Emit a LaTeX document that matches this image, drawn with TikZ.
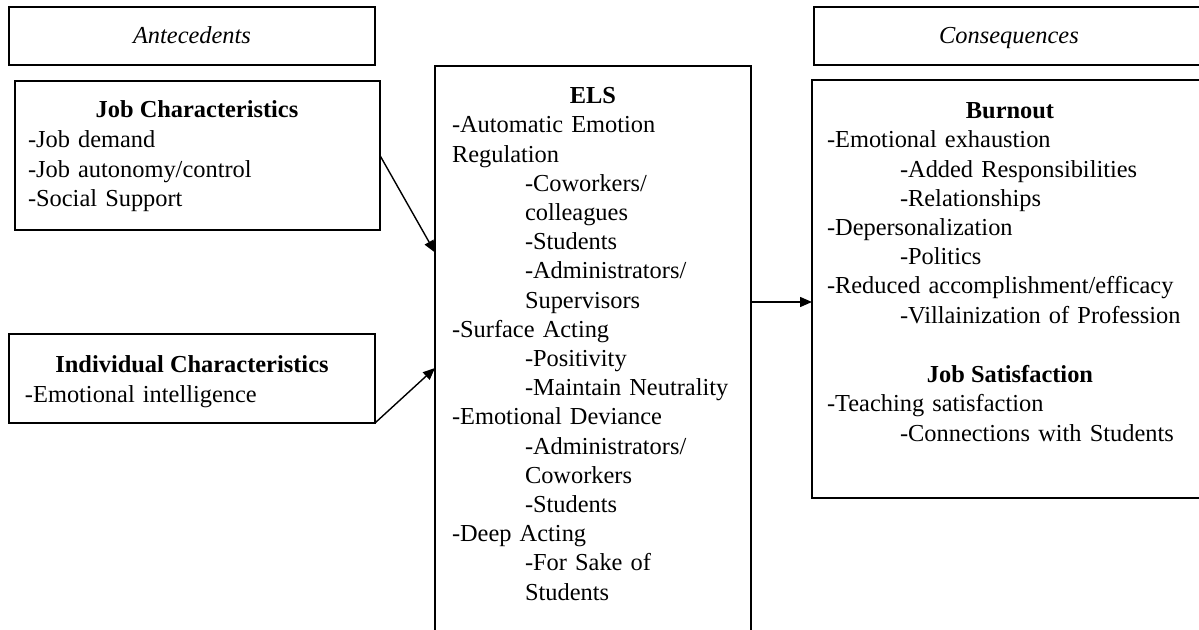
\documentclass[tikz,border=0pt]{standalone}
\usepackage{fontspec}
\setmainfont{Liberation Serif}
\usetikzlibrary{arrows.meta,calc}
\newcommand\itab{\hspace*{36.5pt}}
\begin{document}
\begin{tikzpicture}[x=0.5pt,y=-0.5pt,
  box/.style={draw,line width=1.3pt,inner sep=0pt,outer sep=0pt},
  txt/.style={inner sep=0pt,outer sep=0pt,font=\fontsize{12.2}{14.6}\selectfont},
  ttl/.style={txt,anchor=base,font=\fontsize{12.2}{14.6}\selectfont\bfseries},
  itl/.style={txt,anchor=base,font=\fontsize{12.2}{14.6}\selectfont\itshape},
  lst/.style={txt,anchor=base west,text width=185pt,align=left},
  arr/.style={line width=0.7pt,-{Triangle[length=6pt,width=5pt]}}]
\useasboundingbox (0,0) rectangle (1199,630);

% boxes
\node[box,minimum width=183pt,minimum height=29pt] (ant) at (192,36) {};
\node[box,minimum width=200.5pt,minimum height=29pt] (con) at (1014.5,36) {};
\node[box,minimum width=182.5pt,minimum height=74.5pt] (jc) at (197.5,155.5) {};
\node[box,minimum width=183pt,minimum height=44.5pt] (ind) at (192,378.5) {};
\node[box,minimum width=158pt,minimum height=282.5pt] (els) at (593,348.5) {};
\node[box,minimum width=201.5pt,minimum height=209pt] (bo) at (1013.5,289) {};

% headers
\node[itl] (antT) at (192,44) {Antecedents};
\node[itl] (conT) at (1009,44) {Consequences};

% job characteristics
\node[ttl] (jcT) at (197,118) {Job Characteristics};
\node[lst] (jcL) at (28,148) {-Job demand\\-Job autonomy/control\\-Social Support};

% individual characteristics
\node[ttl] (indT) at (192,373) {Individual Characteristics};
\node[lst] (indL) at (25,402) {-Emotional intelligence};

% ELS
\node[ttl] (elsT) at (593,104) {ELS};
\node[lst] (elsL) at (452,133) {-Automatic Emotion\\
Regulation\\
\itab-Coworkers/\\
\itab colleagues\\
\itab-Students\\
\itab-Administrators/\\
\itab Supervisors\\
-Surface Acting\\
\itab-Positivity\\
\itab-Maintain Neutrality\\
-Emotional Deviance\\
\itab-Administrators/\\
\itab Coworkers\\
\itab-Students\\
-Deep Acting\\
\itab-For Sake of\\
\itab Students};

% Burnout
\node[ttl] (boT) at (1010,119) {Burnout};
\node[lst] (boL) at (827,148) {-Emotional exhaustion\\
\itab-Added Responsibilities\\
\itab-Relationships\\
-Depersonalization\\
\itab-Politics\\
-Reduced accomplishment/efficacy\\
\itab-Villainization of Profession};
\node[ttl] (jsT) at (1010,383) {Job Satisfaction};
\node[lst] (jsL) at (827,412) {-Teaching satisfaction\\
\itab-Connections with Students};

% connectors
\draw[arr] (jc.east) -- ([yshift=48pt]els.west);
\draw[arr] (ind.south east) -- ([yshift=-9.75pt]els.west);
\coordinate (a3) at ([yshift=23.25pt]els.east);
\draw[arr] (a3) -- (a3 -| bo.west);
\end{tikzpicture}
\end{document}
